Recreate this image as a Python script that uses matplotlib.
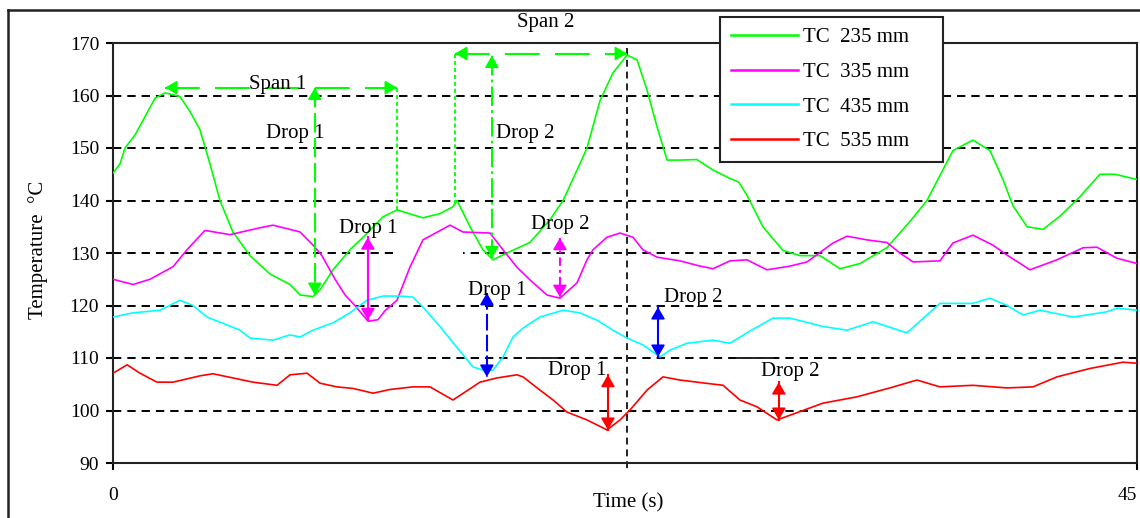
import matplotlib
matplotlib.use("Agg")
import matplotlib.pyplot as plt
from matplotlib.lines import Line2D
from matplotlib.patches import Rectangle

plt.rcParams['font.family'] = ['Liberation Serif', 'DejaVu Serif']
plt.rcParams['lines.scale_dashes'] = False

# ---------------- data ----------------
labels = ["TC  235 mm", "TC  335 mm", "TC  435 mm", "TC  535 mm"]
colors = ["#00FF00", "#FF00FF", "#00FFFF", "#FF0000"]

t_235 = [0, 0.31, 0.53, 0.97, 1.41, 1.85, 2.29, 2.94, 3.38, 3.82, 4.26, 4.70, 5.27, 6.02, 6.90,
         7.78, 8.22, 8.79, 9.10, 9.67, 10.41, 10.99, 11.87, 12.48, 13.62, 14.37, 14.94, 15.12,
         15.69, 16.26, 16.70, 17.31, 18.32, 19.20, 19.78, 20.52, 20.83, 21.40, 21.97, 22.59,
         23.03, 23.47, 23.91, 24.35, 24.92, 25.66, 26.37, 27.11, 27.5, 27.86, 28.56, 29.44,
         30.19, 31.07, 31.95, 32.83, 34.01, 35.02, 35.77, 36.91, 37.79, 38.54, 39.11, 39.55,
         40.17, 40.87, 41.61, 42.49, 43.37, 44.03, 45.0]
T_235 = [145.2, 147, 150, 152.5, 156, 159.5, 160.5, 159.8, 157, 153.5, 147, 140, 134, 129.5, 126,
         124, 122, 121.7, 123, 126.8, 130.6, 133, 136.9, 138.2, 136.7, 137.5, 138.8, 140,
         135, 130.6, 128.7, 130, 132, 136.3, 140, 147, 150, 159, 164.3, 167.7,
         166.8, 161, 154, 147.7, 147.7, 147.8, 145.8, 144.2, 143.5, 141, 135, 130.5,
         129.5, 129.5, 127, 128, 131, 136, 140, 149.5, 151.5, 149.5, 144, 139,
         135, 134.5, 137, 140.7, 145, 145, 144]

t_335 = [0, 0.88, 1.63, 2.64, 3.25, 4.04, 5.14, 6.46, 7.03, 7.78, 8.22, 8.79, 9.18, 9.76, 10.20,
         10.63, 11.21, 11.65, 11.95, 12.48, 13.05, 13.62, 14.81, 15.38, 16.57, 17.14, 17.75,
         18.32, 19.07, 19.64, 20.39, 20.83, 21.09, 21.71, 22.28, 22.85, 23.29, 23.91, 24.92,
         25.80, 26.37, 27.11, 27.86, 28.74, 29.75, 30.50, 31.64, 32.26, 33.13, 34.01, 34.58,
         35.16, 36.34, 36.91, 37.79, 38.67, 39.29, 40.30, 41.48, 42.63, 43.24, 44.12, 45.0]
T_335 = [125, 124, 125, 127.4, 130.6, 134.3, 133.5, 134.8, 135.3, 134.5, 134, 131.5, 129.5, 125, 122,
         120, 117, 117.3, 119, 121, 127.3, 132.5, 135.3, 134, 133.8, 130.6, 127.3,
         124.9, 122, 121.4, 124.3, 128.7, 130.6, 133, 133.8, 133, 130.6, 129.2, 128.5,
         127.5, 127, 128.5, 128.7, 126.8, 127.5, 128.3, 131.9, 133.2, 132.5, 132, 130,
         128.3, 128.5, 131.9, 133.4, 131.5, 129.6, 126.8, 128.7, 131, 131.1, 129, 128]

t_435 = [0, 0.88, 2.07, 2.94, 3.52, 4.13, 5.01, 5.58, 6.02, 7.03, 7.78, 8.22, 8.79, 9.67, 10.41,
         11.16, 11.87, 12.61, 13.18, 13.62, 14.37, 15.12, 15.82, 16.26, 16.70, 17.14, 17.58,
         18.02, 18.76, 19.78, 20.52, 21.27, 21.97, 22.59, 23.29, 24.04, 24.48, 25.22, 26.37,
         27.11, 27.86, 29.00, 29.75, 31.20, 32.26, 33.40, 34.89, 36.34, 37.79, 38.54, 39.29,
         39.99, 40.74, 42.19, 43.68, 44.12, 45.0]
T_435 = [117.8, 118.6, 119.1, 121, 120, 117.8, 116.3, 115.3, 113.8, 113.4, 114.4, 114, 115.3, 116.7, 118.6,
         121, 121.8, 121.8, 121.6, 119.7, 116, 112, 108.3, 107.7, 107.7, 110.2, 114,
         115.7, 117.8, 119.1, 118.6, 117.2, 115.3, 113.8, 112.5, 110.2, 111.5, 112.8, 113.4,
         112.8, 114.8, 117.6, 117.6, 116, 115.3, 116.9, 114.8, 120.4, 120.4, 121.4, 120,
         118.2, 119.1, 117.8, 118.8, 119.5, 119.1]

t_535 = [0, 0.62, 1.19, 1.93, 2.64, 3.82, 4.39, 5.27, 6.15, 7.21, 7.78, 8.53, 9.10, 9.84, 10.55,
         11.43, 12.17, 13.18, 13.93, 14.94, 16.13, 16.87, 17.75, 18.02, 18.76, 19.34, 19.95,
         20.83, 21.71, 22.28, 22.72, 23.47, 24.17, 24.92, 25.66, 26.81, 27.55, 28.30, 29.18,
         29.75, 31.20, 32.69, 34.14, 35.33, 36.34, 37.79, 39.29, 40.43, 41.48, 42.93, 44.38, 45.0]
T_535 = [107.1, 108.7, 107.1, 105.4, 105.4, 106.6, 107, 106.2, 105.4, 104.8, 106.8, 107.1, 105.2, 104.5, 104.2,
         103.3, 104, 104.5, 104.5, 102, 105.4, 106.2, 106.8, 106.4, 103.9, 102, 99.7,
         98.2, 96.3, 98.2, 100.1, 103.9, 106.4, 105.8, 105.4, 104.8, 102, 100.7, 98.2,
         99.1, 101.4, 102.6, 104.3, 105.8, 104.5, 104.8, 104.3, 104.5, 106.4, 108, 109.2, 109]

y_ticks = [90, 100, 110, 120, 130, 140, 150, 160, 170]
x_ticks = [0, 45]

# annotation values (time s, temperature C)
span1 = (2.29, 12.48, 161.5)      # t_start, t_end, level
span2 = (15.03, 22.59, 168.0)
span1_end_low = 138.0
span2_start_low = 139.5
marker_t = 22.59
drops = [
    # t, top, bottom, colour, linestyle, label, label_t, label_T
    (8.87, 161.5, 122.0, "#00FF00", (0, (14, 4)), "Drop 1", 8.0, 152.8),
    (16.65, 167.6, 129.0, "#00FF00", (0, (14, 3, 2, 3)), "Drop 2", 18.1, 152.8),
    (11.2, 133.0, 117.2, "#FF00FF", "-", "Drop 1", 11.2, 134.7),
    (19.64, 132.9, 121.6, "#FF00FF", (0, (6, 3, 2, 3)), "Drop 2", 19.64, 135.4),
    (16.43, 122.4, 106.4, "#0000FF", (0, (12, 3)), "Drop 1", 16.9, 122.8),
    (23.95, 119.7, 110.2, "#0000FF", "-", "Drop 2", 25.5, 121.6),
    (21.75, 106.8, 96.3, "#FF0000", "-", "Drop 1", 20.4, 107.7),
    (29.26, 105.4, 98.2, "#FF0000", "-", "Drop 2", 29.75, 107.5),
]

# ---------------- figure ----------------
W, H = 1140, 518
fig = plt.figure(figsize=(W / 100, H / 100), dpi=100)
fig.patch.set_facecolor("white")
ax = fig.add_axes([113 / W, 1 - 463 / H, 1024 / W, 420 / H])

series = [(t_235, T_235), (t_335, T_335), (t_435, T_435), (t_535, T_535)]
for (tt, TT), c, lab in zip(series, colors, labels):
    ax.plot(tt, TT, color=c, lw=1.2, label=lab, zorder=3)

ax.set_xlim(0, 45)
ax.set_ylim(90, 170)
ax.set_yticks(y_ticks)
ax.set_xticks(x_ticks)
ax.set_axisbelow(True)
ax.grid(axis="y", color="black", linestyle=(0, (6, 4.3)), linewidth=1.4)
ax.grid(axis="x", visible=False)
for s in ax.spines.values():
    s.set_linewidth(1.5)
    s.set_color("#222222")
ax.tick_params(axis="y", direction="out", length=5, width=1.5, pad=5, labelsize=14)
ax.tick_params(axis="x", direction="out", length=5, width=1.5, pad=12, labelsize=14)
xt = ax.get_xticklabels()
xt[-1].set_horizontalalignment("right")

# gap in the 130 gridline
ax.add_patch(Rectangle((12.3, 129.2), 3.08, 1.6, facecolor="white", edgecolor="none", zorder=1))

# small solid segments at 110
ax.plot([18.2, 19.5], [110, 110], color="#222222", lw=1.4, zorder=1.2)
ax.plot([27.4, 29.0], [110, 110], color="#222222", lw=1.4, zorder=1.2)

# vertical marker line
ax.plot([marker_t, marker_t], [169.0, 88.6], color="#222222", lw=1.4,
        linestyle=(0, (5, 3.5)), clip_on=False, zorder=2)

head = dict(arrowstyle="-|>,head_length=0.6,head_width=0.35", lw=1.2,
            mutation_scale=12, shrinkA=0, shrinkB=0)


def head_at(x, y, dx, dy, color):
    ax.annotate("", xy=(x, y), xytext=(x - dx, y - dy),
                arrowprops=dict(color=color, **head), zorder=4)


# spans
for (t0, t1, lvl) in (span1, span2):
    ax.plot([t0, t1], [lvl, lvl], color="#00FF00", lw=1.5, linestyle=(0, (25, 11)), zorder=4)
    head_at(t0, lvl, -0.45, 0, "#00FF00")
    head_at(t1, lvl, 0.45, 0, "#00FF00")
ax.plot([span1[1], span1[1]], [span1[2], span1_end_low], color="#00FF00", lw=1.3,
        linestyle=(0, (3, 2)), zorder=4)
ax.plot([span2[0], span2[0]], [span2[2], span2_start_low], color="#00FF00", lw=1.3,
        linestyle=(0, (3, 2)), zorder=4)

ax.text(7.25, span1[2] - 0.3, "Span 1", fontsize=15, ha="center",
        va="baseline", zorder=5)
ax.text(19.0, 173.9, "Span 2", fontsize=15, ha="center", va="center", clip_on=False)

# drops
for (t, top, bot, c, ls, lab, lt, lT) in drops:
    ax.plot([t, t], [top, bot], color=c, lw=1.5, linestyle=ls, zorder=4)
    head_at(t, top, 0, 1.9, c)
    head_at(t, bot, 0, -1.9, c)
    ax.text(lt, lT, lab, fontsize=15, ha="center", va="center", zorder=5)

ax.set_xlabel("Time (s)", fontsize=15)
ax.xaxis.set_label_coords((628 - 113) / 1024, -(493 - 463) / 420)
fig.text(38 / W, 1 - 250 / H, "Temperature  °C", rotation=90, fontsize=15,
         ha="center", va="center")

leg = ax.legend(loc="upper left", bbox_to_anchor=(720 / W, 1 - 158 / H, 223 / W, 141 / H),
                bbox_transform=fig.transFigure, mode="expand", borderaxespad=0,
                fontsize=15, handlelength=3.2, handletextpad=0.25, labelspacing=0.72,
                borderpad=0.52, fancybox=False, framealpha=1, edgecolor="#222222")
leg.get_frame().set_linewidth(1.5)
for h in leg.get_lines():
    h.set_linewidth(1.8)

# outer border
fig.add_artist(Line2D([8 / W, 8 / W], [0, 1 - 10 / H], color="#222222", lw=1.8))
fig.add_artist(Line2D([8 / W, 1], [1 - 10 / H, 1 - 10 / H], color="#222222", lw=1.8))

fig.savefig("out.png", dpi=100)
